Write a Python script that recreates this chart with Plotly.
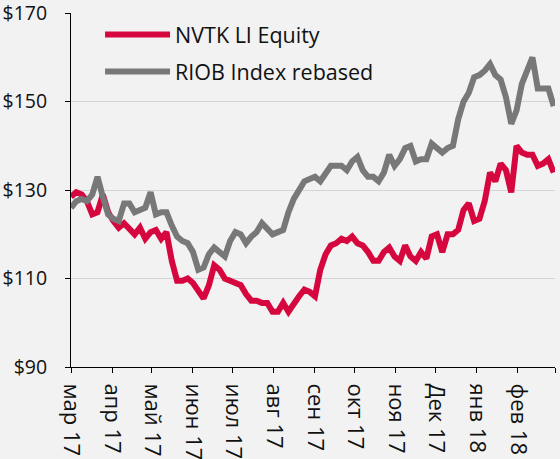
import pandas as pd
import plotly.graph_objects as go

# sample dates (every 4 calendar days from 1 Mar 2017)
dates = pd.date_range("2017-03-01", periods=92, freq="4D")

nvtk = [128.5, 129.5, 129, 127.5, 124.5, 125, 129, 125, 123, 121.5,
        122.5, 121, 120, 121.5, 119, 120.5, 121, 119, 120.5, 114,
        109.5, 109.5, 110, 109, 107.5, 105.5, 108.5, 113, 112, 110,
        109.5, 109, 108.5, 106.5, 105, 105, 104.5, 104.5, 102.5, 102.5,
        104.5, 102.5, 104.5, 106, 107.5, 107, 106, 112, 115.5, 117.5,
        118, 119, 118.5, 119.5, 118, 117.5, 116, 114, 114, 116,
        117, 115, 114, 117.5, 115, 114, 116, 114.5, 119.5, 120,
        116, 120, 120, 121, 125.5, 127, 123, 123.5, 127.5, 134,
        132, 136, 134.5, 129.5, 140, 138.5, 138, 138, 135.5, 136,
        137, 134]

riob = [126, 127.5, 128, 127.5, 129, 133, 128.5, 124.5, 123.5, 123,
        127, 127, 125, 125.5, 126, 129.5, 124.5, 125, 125, 122,
        119.5, 118.5, 118, 116, 112, 112.5, 115.5, 117, 116, 115,
        118.5, 120.5, 120, 118, 119.5, 120.5, 122.5, 121, 120, 120.5,
        121, 125, 128, 130, 132, 132.5, 133, 132, 133.5, 135.5,
        135.5, 135.5, 134.5, 136.5, 137.5, 134.5, 133, 133, 132, 134,
        138, 135.5, 137, 139.5, 140, 136.5, 137, 137, 140.5, 139.5,
        138.5, 139.5, 140, 146, 150, 152, 155.5, 156, 157, 158.5,
        156, 155, 151, 145, 148, 154, 157, 160, 153, 153,
        153, 149]

tick_dates = ["2017-03-01", "2017-04-01", "2017-05-01", "2017-06-01", "2017-07-01",
              "2017-08-01", "2017-09-01", "2017-10-01", "2017-11-01", "2017-12-01",
              "2018-01-01", "2018-02-01", "2018-03-01"]
tick_labels = ["мар 17", "апр 17", "май 17", "июн 17", "июл 17", "авг 17",
               "сен 17", "окт 17", "ноя 17", "Дек 17", "янв 18", "фев 18", ""]
y_ticks = [90, 110, 130, 150, 170]
y_labels = ["$90", "$110", "$130", "$150", "$170"]

RED = "#D6073E"
GREY = "#787878"
FONT = "Open Sans"

fig = go.Figure()
fig.add_trace(go.Scatter(x=dates, y=nvtk, mode="lines", name="NVTK LI Equity",
                         line=dict(color=RED, width=6), legendgroup="a"))
fig.add_trace(go.Scatter(x=dates, y=riob, mode="lines", name="RIOB Index rebased",
                         line=dict(color=GREY, width=6), legendgroup="b"))

fig.update_layout(
    width=560, height=459,
    margin=dict(l=71, r=5, t=13, b=92, autoexpand=False),
    paper_bgcolor="#F2F2F2", plot_bgcolor="#F2F2F2",
    font=dict(family=FONT, size=20, color="#111111"),
    showlegend=True,
    legend=dict(x=0.06, y=0.997, xanchor="left", yanchor="top",
                bgcolor="rgba(0,0,0,0)", font=dict(size=21.5, family=FONT),
                itemwidth=65, traceorder="grouped", tracegroupgap=6),
    xaxis=dict(type="date", range=["2017-03-01", "2018-03-01"],
               tickvals=tick_dates, ticktext=tick_labels, tickangle=90,
               ticks="outside", ticklen=5, tickcolor="#000000",
               ticklabelstandoff=6, automargin=False, ticklabeloverflow="allow",
               showline=True, linecolor="#000000", linewidth=1,
               showgrid=False, zeroline=False,
               tickfont=dict(size=22, family=FONT, color="#111111")),
    yaxis=dict(range=[90, 170.05], tickvals=y_ticks, ticktext=y_labels,
               ticks="outside", ticklen=5, tickcolor="#000000",
               ticklabelstandoff=14, automargin=False, ticklabeloverflow="allow",
               showline=True, linecolor="#000000", linewidth=1,
               showgrid=True, gridcolor="#D4D4D4", gridwidth=1,
               zeroline=False,
               tickfont=dict(size=19.5, family=FONT, color="#111111")),
)

fig.write_html("out.html")
